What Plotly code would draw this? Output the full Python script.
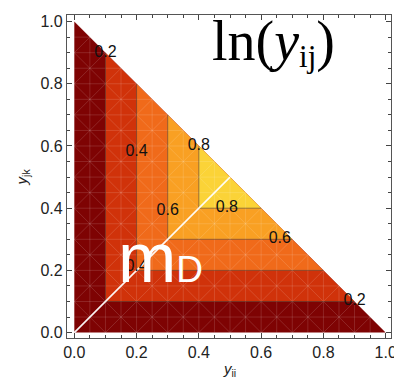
import numpy as np
import plotly.graph_objects as go

# Contour levels of ln(y_ij) and the diagonal point (y_ii = y_jk) where each level's corner sits
levels = [0.2, 0.4, 0.6, 0.8]
corners = [0.1, 0.2, 0.3, 0.4]
# Fill colours from the lowest band (below 0.2) to the highest (above 0.8)
band_colors = ["#7e0303", "#d0320a", "#f06a1a", "#f9a023", "#fbd337"]

# Contour labels: which level each one names, and where it is placed
label_level = [0, 0, 1, 1, 2, 2, 3, 3]
label_x = [0.10, 0.90, 0.20, 0.20, 0.30, 0.66, 0.40, 0.49]
label_y = [0.90, 0.10, 0.58, 0.21, 0.39, 0.30, 0.60, 0.40]

tick_vals = [0.0, 0.2, 0.4, 0.6, 0.8, 1.0]

fig = go.Figure()

# Filled bands: the region above each level is a triangle inside y_ii + y_jk <= 1
edges = [0.0] + corners
for c, col in zip(edges, band_colors):
    fig.add_trace(go.Scatter(
        x=[c, 1 - c, c, c], y=[c, c, 1 - c, c],
        mode="lines", fill="toself", fillcolor=col,
        line=dict(width=0), hoverinfo="skip", showlegend=False))

# Faint triangulation mesh texture over the domain
mx, my = [], []
step = 0.05
for a in np.arange(step, 1.0 - 1e-9, step):
    mx += [a, a, None]; my += [0, 1 - a, None]
    mx += [0, 1 - a, None]; my += [a, a, None]
for s in np.arange(0.1, 1.0 + 1e-9, 0.1):
    mx += [0, s, None]; my += [s, 0, None]
for c in np.arange(-0.9, 0.9 + 1e-9, 0.1):
    mx += [max(0, -c), (1 - c) / 2, None]; my += [max(0, c), (1 + c) / 2, None]
fig.add_trace(go.Scatter(x=mx, y=my, mode="lines",
                         line=dict(color="rgba(255,255,255,0.2)", width=0.7),
                         hoverinfo="skip", showlegend=False))

# Contour lines along the two legs of each level's triangle
cx, cy = [], []
for c in corners:
    cx += [c, c, 1 - c, None]; cy += [1 - c, c, c, None]
fig.add_trace(go.Scatter(x=cx, y=cy, mode="lines",
                         line=dict(color="rgba(70,45,35,0.55)", width=1),
                         hoverinfo="skip", showlegend=False))

# Diagonal y_ii = y_jk
fig.add_trace(go.Scatter(x=[0, 0.5], y=[0, 0.5], mode="lines",
                         line=dict(color="rgba(255,255,255,0.95)", width=1.6),
                         hoverinfo="skip", showlegend=False))

# Contour labels
fig.add_trace(go.Scatter(
    x=label_x, y=label_y, mode="text",
    text=[f"{levels[i]:.1f}" for i in label_level],
    textfont=dict(family="Liberation Sans", size=16, color="#111"),
    hoverinfo="skip", showlegend=False))

axis_common = dict(
    showgrid=False, zeroline=False, automargin=False,
    showline=True, linecolor="#555", linewidth=1.2, mirror="ticks",
    ticks="inside", ticklen=5, tickwidth=1, tickcolor="#444",
    minor=dict(ticks="inside", ticklen=3, dtick=0.05, tickcolor="#444", tickwidth=1),
    tickvals=tick_vals, ticktext=[f"{v:.1f}" for v in tick_vals],
    tickfont=dict(family="Liberation Sans", size=16, color="#222"),
    ticklabeloverflow="allow",
)

fig.update_layout(
    width=394, height=381, autosize=False,
    margin=dict(l=67, r=3, t=15, b=43),
    plot_bgcolor="white", paper_bgcolor="white",
    xaxis=dict(range=[-0.0234, 1.017], **axis_common),
    yaxis=dict(range=[-0.0174, 1.0212], **axis_common),
    annotations=[
        dict(xref="paper", yref="paper", x=0.5, y=-0.099,
             text="<i>y</i><sub>ii</sub>", showarrow=False,
             font=dict(family="Liberation Sans", size=15, color="#222"),
             xanchor="center", yanchor="middle"),
        dict(xref="paper", yref="paper", x=-0.138, y=0.498,
             text="<i>y</i><sub>jk</sub>", showarrow=False, textangle=-90,
             font=dict(family="Liberation Sans", size=15, color="#222"),
             xanchor="center", yanchor="middle"),
        dict(xref="paper", yref="paper", x=0.152, y=0.2486,
             text="m<span style='font-size:37px'>D</span>", showarrow=False,
             font=dict(family="Liberation Sans", size=70, color="white"),
             xanchor="left", yanchor="middle"),
        dict(xref="paper", yref="paper", x=0.442, y=0.917,
             text="ln(<i>y</i><span style='font-size:31px;baseline-shift:-7px'>ij</span>)",
             showarrow=False,
             font=dict(family="Liberation Serif", size=56, color="black"),
             xanchor="left", yanchor="middle"),
    ],
)

fig.write_html("out.html")
